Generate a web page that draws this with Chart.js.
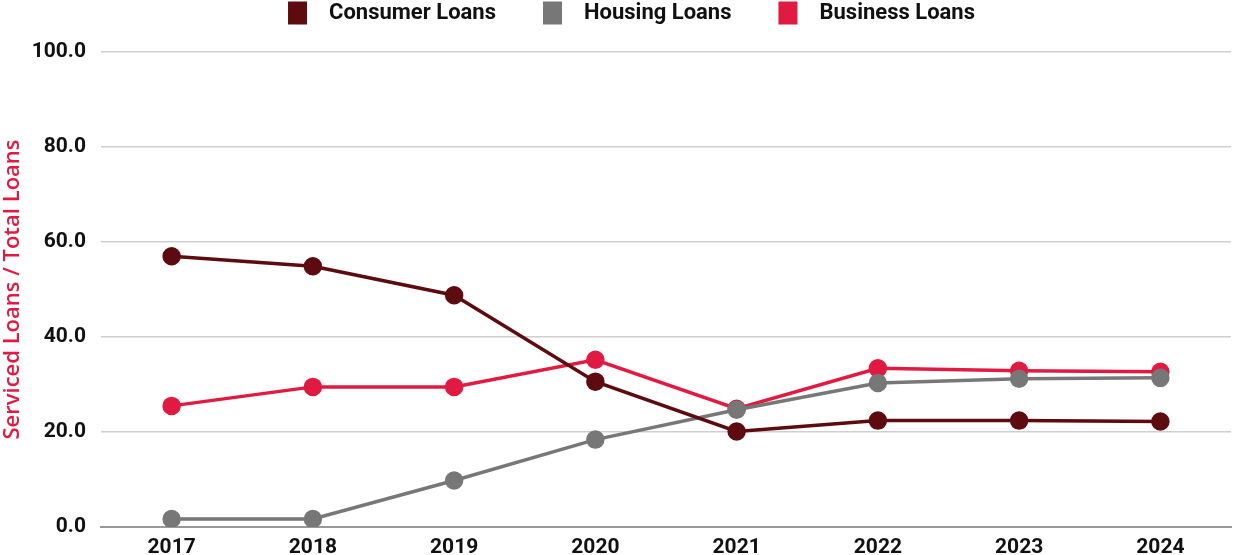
<!DOCTYPE html>
<html><head><meta charset="utf-8">
<script src="https://cdn.jsdelivr.net/npm/chart.js@4"></script>
<style>html,body{margin:0;padding:0;background:#fff;overflow:hidden}canvas{display:block}</style>
</head><body><canvas id="c" width="1233" height="555"></canvas>
<script>
const years = ["2017","2018","2019","2020","2021","2022","2023","2024"];
const consumerLoans = [57.0, 54.9, 48.8, 30.6, 20.1, 22.4, 22.4, 22.2];
const housingLoans = [1.7, 1.7, 9.8, 18.4, 24.7, 30.3, 31.2, 31.4];
const businessLoans = [25.5, 29.5, 29.5, 35.2, 24.9, 33.4, 32.9, 32.7];
const yTitle = "Serviced Loans / Total Loans";

const FONT = "Roboto";
function ds(label, data, color){
  return {label, data, borderColor: color, backgroundColor: color, pointBackgroundColor: color,
    pointBorderColor: color, borderWidth: 3.5, pointRadius: 7.5, pointHoverRadius: 7.5, tension: 0};
}
// legend drawn by a small plugin, items laid out like the reference
const topLegend = {
  id: 'topLegend',
  afterDraw(chart){
    const ctx = chart.ctx;
    ctx.save();
    ctx.font = `700 22px ${FONT}`;
    const boxW = 19, boxH = 23, gapText = 22, gapItem = 47;
    const items = chart.data.datasets.map(d => ({text: d.label, color: d.borderColor, w: ctx.measureText(d.label).width}));
    const total = items.reduce((s, it) => s + boxW + gapText + it.w, 0) + gapItem * (items.length - 1);
    let x = chart.width / 2 + 15 - total / 2;
    const cy = 13;
    items.forEach(it => {
      ctx.fillStyle = it.color;
      ctx.fillRect(x, cy - boxH / 2, boxW, boxH);
      x += boxW + gapText;
      ctx.fillStyle = '#111';
      ctx.textBaseline = 'middle';
      ctx.textAlign = 'left';
      ctx.fillText(it.text, x, cy);
      x += it.w + gapItem;
    });
    ctx.restore();
  }
};
new Chart(document.getElementById('c'), {
  type: 'line',
  data: {labels: years, datasets: [
    ds("Consumer Loans", consumerLoans, "#5e0b10"),
    ds("Housing Loans", housingLoans, "#777777"),
    ds("Business Loans", businessLoans, "#e01a40")
  ]},
  plugins: [topLegend],
  options: {
    responsive: false, animation: false, devicePixelRatio: 1,
    layout: {autoPadding: false, padding: {top: 52, right: 2, bottom: -13, left: 0}},
    plugins: {
      tooltip: {enabled: false},
      legend: {display: false}
    },
    scales: {
      x: {offset: true, grid: {display: false, drawTicks: false},
        border: {display: true, color: '#999', width: 2},
        ticks: {color: '#111', padding: 10, font: {family: FONT, size: 21, weight: '700', lineHeight: 1}}},
      y: {min: 0, max: 100,
        afterFit(scale){ scale.width = 101; },
        ticks: {stepSize: 20, color: '#111', padding: 15, callback: v => v.toFixed(1),
          font: {family: FONT, size: 21, weight: '700'}},
        grid: {color: '#cfcfcf', lineWidth: 1.5, drawTicks: false},
        border: {display: false},
        title: {display: true, text: yTitle, color: '#e01a40', padding: {top: 0, bottom: 6},
          font: {family: 'Open Sans', size: 22, weight: '600'}}}
    }
  }
});
</script></body></html>
